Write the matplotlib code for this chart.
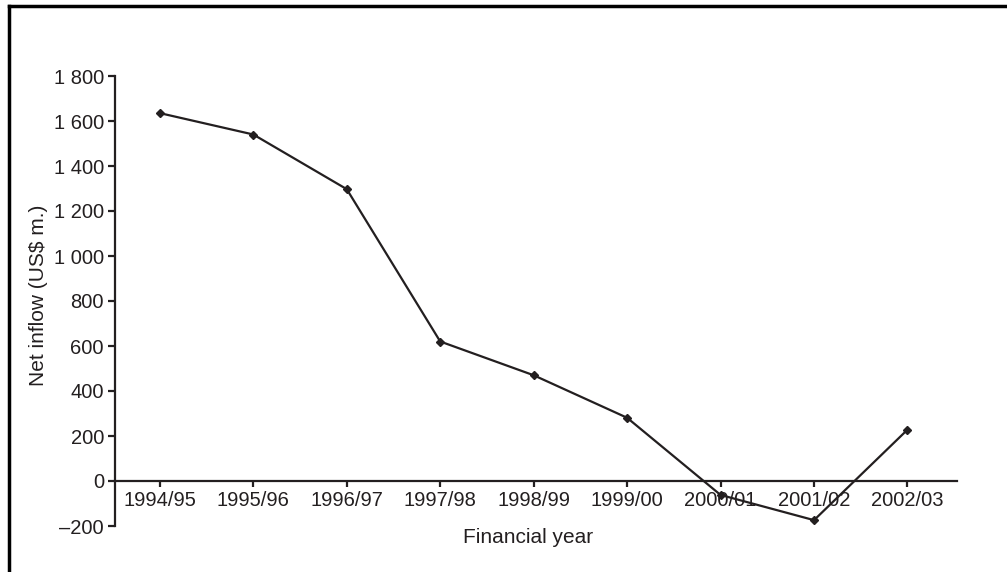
import matplotlib.pyplot as plt
from matplotlib.lines import Line2D

# === Data ===
years = ["1994/95", "1995/96", "1996/97", "1997/98", "1998/99",
         "1999/00", "2000/01", "2001/02", "2002/03"]
net_inflow = [1635, 1540, 1297, 620, 470, 281, -62, -174, 228]

y_ticks = [-200, 0, 200, 400, 600, 800, 1000, 1200, 1400, 1600, 1800]
y_tick_labels = ["\u2013200", "0", "200", "400", "600", "800",
                 "1 000", "1 200", "1 400", "1 600", "1 800"]

ink = "#231f20"
plt.rcParams["font.family"] = ["Liberation Sans", "DejaVu Sans"]

# === Plot ===
fig = plt.figure(figsize=(10.07, 5.72), dpi=100)
ax = fig.add_axes([115 / 1007, 46 / 572, 842 / 1007, 450 / 572])

x = list(range(len(years)))
ax.plot(x, net_inflow, color=ink, lw=1.6, marker="D", ms=4.5,
        mfc=ink, mec=ink, zorder=3)

ax.set_xlim(-0.48, 8.53)
ax.set_ylim(-200, 1800)
ax.set_xticks(x)
ax.set_xticklabels(years)
ax.set_yticks(y_ticks)
ax.set_yticklabels(y_tick_labels)

for side in ["top", "right"]:
    ax.spines[side].set_visible(False)
ax.spines["bottom"].set_position(("data", 0))
for side in ["left", "bottom"]:
    ax.spines[side].set_color(ink)
    ax.spines[side].set_linewidth(1.6)

ax.tick_params(axis="y", direction="out", length=5, width=1.6, color=ink,
               labelsize=14.5, labelcolor=ink, pad=3)
ax.tick_params(axis="x", direction="out", length=4.5, width=1.6, color=ink,
               labelsize=14.5, labelcolor=ink, pad=3)

ax.set_ylabel("Net inflow (US$ m.)", fontsize=15, color=ink)
ax.yaxis.set_label_coords(-0.079, 0.513)
ax.set_xlabel("Financial year", fontsize=15, color=ink)
ax.xaxis.set_label_coords(0.49, -0.005)

# frame lines on top and left of the figure
fig.add_artist(Line2D([9 / 1007, 1], [1 - 6 / 572, 1 - 6 / 572],
                      transform=fig.transFigure, color="black", lw=2.5))
fig.add_artist(Line2D([9 / 1007, 9 / 1007], [0, 1 - 6 / 572],
                      transform=fig.transFigure, color="black", lw=2.5))

fig.savefig("out.png", dpi=100)
